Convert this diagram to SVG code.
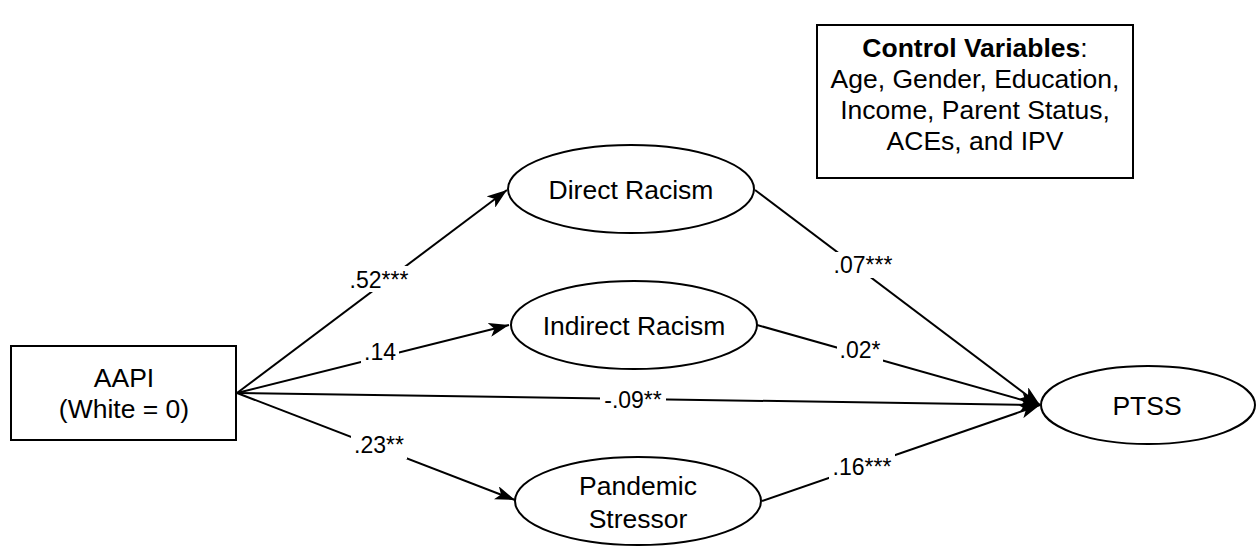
<svg xmlns="http://www.w3.org/2000/svg" width="1257" height="546" viewBox="0 0 1257 546">
<style>
.shape{fill:#fff;stroke:#000;stroke-width:2}
.lbl{font-family:"Liberation Sans",Arial,Helvetica,sans-serif;font-size:26.5px;fill:#000;text-anchor:middle}
.edge{fill:none;stroke:#000;stroke-width:2;marker-end:url(#arr)}
.plain{fill:none;stroke:#000;stroke-width:2}
.elbl{font-family:"Liberation Sans",Arial,Helvetica,sans-serif;font-size:23px;fill:#000;text-anchor:middle}
.bg{fill:#fff}
</style>
<defs>
<marker id="arr" viewBox="0 0 20 14" refX="20" refY="7" markerWidth="20" markerHeight="14" orient="auto" markerUnits="userSpaceOnUse">
<path d="M0,0 L20,7 L0,14 L5,7 Z" fill="#000"/>
</marker>
</defs>
<rect width="1257" height="546" fill="#fff"/>
<g id="connectors">
<line class="edge" x1="237" y1="393" x2="507" y2="190"/>
<line class="edge" x1="237" y1="393" x2="509" y2="325"/>
<line class="edge" x1="237" y1="393" x2="1040" y2="405"/>
<line class="edge" x1="237" y1="393" x2="515" y2="500"/>
<line class="edge" x1="755" y1="190" x2="1040" y2="405"/>
<line class="edge" x1="757" y1="325" x2="1040" y2="405"/>
<line class="edge" x1="762" y1="501" x2="1040" y2="405"/>
<g id="lbl-52"><rect class="bg" x="346" y="266" width="66" height="26"/><text class="elbl" x="379" y="288">.52***</text></g>
<g id="lbl-14"><rect class="bg" x="361" y="339" width="38" height="26"/><text class="elbl" x="380" y="360">.14</text></g>
<g id="lbl-09"><rect class="bg" x="600" y="388" width="66" height="24"/><text class="elbl" x="633" y="408">-.09**</text></g>
<g id="lbl-23"><rect class="bg" x="351" y="433" width="56" height="26"/><text class="elbl" x="379" y="453">.23**</text></g>
<g id="lbl-07"><rect class="bg" x="830" y="252" width="66" height="26"/><text class="elbl" x="863" y="273">.07***</text></g>
<g id="lbl-02"><rect class="bg" x="837" y="337" width="46" height="26"/><text class="elbl" x="860" y="358">.02*</text></g>
<g id="lbl-16"><rect class="bg" x="829" y="454" width="66" height="26"/><text class="elbl" x="862" y="475">.16***</text></g>
</g>
<g id="aapi">
<rect class="shape" x="11" y="346" width="225" height="94"/>
<text class="lbl" x="124" y="387">AAPI</text>
<text class="lbl" x="124" y="418">(White = 0)</text>
</g>
<g id="direct">
<ellipse class="shape" cx="631" cy="189" rx="123" ry="44"/>
<text class="lbl" x="631" y="199">Direct Racism</text>
</g>
<g id="indirect">
<ellipse class="shape" cx="634" cy="325" rx="123" ry="44"/>
<text class="lbl" x="634" y="335">Indirect Racism</text>
</g>
<g id="pandemic">
<ellipse class="shape" cx="638" cy="501" rx="123" ry="44"/>
<text class="lbl" x="638" y="495">Pandemic</text>
<text class="lbl" x="638" y="528">Stressor</text>
</g>
<g id="ptss">
<ellipse class="shape" cx="1148" cy="405" rx="107" ry="39"/>
<text class="lbl" x="1147" y="415">PTSS</text>
</g>
<g id="controls">
<rect class="shape" x="817" y="25" width="316" height="153"/>
<text class="lbl" x="975" y="57"><tspan font-weight="bold">Control Variables</tspan>:</text>
<text class="lbl" x="975" y="88">Age, Gender, Education,</text>
<text class="lbl" x="975" y="119">Income, Parent Status,</text>
<text class="lbl" x="975" y="150">ACEs, and IPV</text>
</g>
</svg>
